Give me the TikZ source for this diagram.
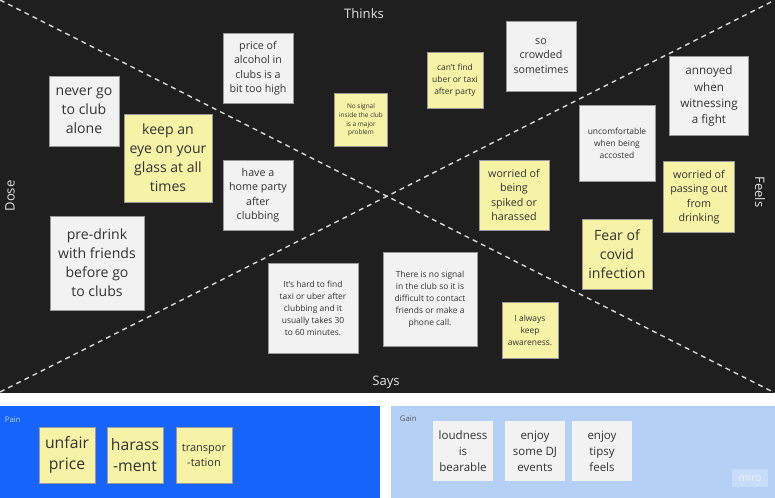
\documentclass[tikz,border=0pt]{standalone}
\usepackage{fontspec}
\setmainfont{Open Sans}
\usepackage{tikz}
\definecolor{board}{HTML}{1F1F1F}
\definecolor{dashgray}{HTML}{D8D8D8}
\definecolor{labelgray}{HTML}{E2E2E2}
\definecolor{notewhite}{HTML}{F2F2F2}
\definecolor{noteyellow}{HTML}{F6F2A6}
\definecolor{noteedge}{HTML}{9A9A9A}
\definecolor{notetext}{HTML}{333333}
\definecolor{painblue}{HTML}{1664FB}
\definecolor{gainblue}{HTML}{B5D0F5}

\begin{document}
\begin{tikzpicture}[x=0.025cm,y=-0.025cm,
  note/.style={draw=noteedge,line width=0.3pt,inner sep=1pt,align=center,text=notetext,minimum width=#1,minimum height=#1},
  whitenote/.style={note=#1,fill=notewhite},
  yellownote/.style={note=#1,fill=noteyellow},
  bigtxt/.style={font=\fontsize{10}{13.5}\selectfont},
  midtxt/.style={font=\fontsize{7.6}{10.3}\selectfont},
  smalltxt/.style={font=\fontsize{6}{8.5}\selectfont},
  tinytxt/.style={font=\fontsize{4.6}{6.2}\selectfont},
  side/.style={text=labelgray,font=\fontsize{9.3}{11}\selectfont},
  divider/.style={draw=dashgray,line width=1pt,dash pattern=on 3.5pt off 3pt}]
\useasboundingbox (0,0) rectangle (775,498);
%board
\fill[white] (0,0) rectangle (775,498);
\fill[board] (0,0) rectangle (775,393);
\coordinate (tl) at (0,0);
\coordinate (br) at (775,393);
\coordinate (bl) at (0,392);
\coordinate (tr) at (775,0);
\draw[divider] (tl)--(br);
\draw[divider] (bl)--(tr);
\node[side] (thinks) at (364,14) {Thinks};
\node[side] (says) at (386,382) {Says};
\node[side,rotate=90] (dose) at (10,196) {Dose};
\node[side,rotate=-90] (feels) at (760,192) {Feels};
%dose
\node[whitenote=1.75cm,bigtxt] (neverclub) at (84,111) {never go\\to club\\alone};
\node[yellownote=2.2cm,bigtxt] (eyeglass) at (168,158) {keep an\\eye on your\\glass at all\\times};
\node[whitenote=2.35cm,bigtxt] (predrink) at (97,263) {pre-drink\\with friends\\before go\\to clubs};
\node[whitenote=1.75cm,midtxt] (homeparty) at (258,195) {have a\\home party\\after\\clubbing};
%thinks
\node[whitenote=1.75cm,midtxt] (alcohol) at (258,68) {price of\\alcohol in\\clubs is a\\bit too high};
\node[yellownote=1.33cm,tinytxt] (nosignal) at (361,120) {No signal\\inside the club\\is a major\\problem};
\node[yellownote=1.4cm,smalltxt] (cantfind) at (455,80) {can't find\\uber or taxi\\after party};
\node[whitenote=1.75cm,midtxt] (crowded) at (541,56) {so\\crowded\\sometimes};
%feels
\node[whitenote=1.98cm,font=\fontsize{8.3}{11.4}\selectfont] (annoyed) at (709,96) {annoyed\\when\\witnessing\\a fight};
\node[whitenote=1.9cm,smalltxt] (accosted) at (617,143) {uncomfortable\\when being\\accosted};
\node[yellownote=1.75cm,midtxt] (spiked) at (514,195) {worried of\\being\\spiked or\\harassed};
\node[yellownote=1.78cm,midtxt] (passout) at (699,197) {worried of\\passing out\\from\\drinking};
\node[yellownote=1.75cm,bigtxt] (covid) at (617,254) {Fear of\\covid\\infection};
%says
\node[whitenote=2.25cm,smalltxt] (hardtaxi) at (313,308) {It's hard to find\\taxi or uber after\\clubbing and it\\usually takes 30\\to 60 minutes.};
\node[whitenote=2.35cm,smalltxt] (nocall) at (430,299) {There is no signal\\in the club so it is\\difficult to contact\\friends or make a\\phone call.};
\node[yellownote=1.4cm,smalltxt] (awareness) at (530,330) {I always\\keep\\awareness.};
%pain
\fill[painblue] (0,406) rectangle (380,498);
\node[text=painblue!30!white,font=\fontsize{5.5}{6.5}\selectfont,anchor=west] (pain) at (0,420) {Pain};
\node[yellownote=1.4cm,font=\fontsize{11.2}{15}\selectfont] (unfair) at (67,455) {unfair\\price};
\node[yellownote=1.4cm,font=\fontsize{11.2}{15}\selectfont] (harass) at (135,455) {harass\\-ment};
\node[yellownote=1.4cm,font=\fontsize{7.8}{10.7}\selectfont] (transport) at (204,455) {transpor\\-tation};
%gain
\fill[gainblue] (391,406) rectangle (775,498);
\node[text=black!65,font=\fontsize{5.5}{6.5}\selectfont,anchor=west] (gain) at (395,419) {Gain};
\node[whitenote=1.5cm,font=\fontsize{8.2}{11.4}\selectfont,draw=none] (loudness) at (463,451) {loudness\\is\\bearable};
\node[whitenote=1.5cm,font=\fontsize{8.2}{11.4}\selectfont,draw=none] (djevents) at (535,451) {enjoy\\some DJ\\events};
\node[whitenote=1.5cm,font=\fontsize{8.2}{11.4}\selectfont,draw=none] (tipsy) at (602,451) {enjoy\\tipsy\\feels};
\node[fill=white!25!gainblue,text=white!75!gainblue,font=\fontsize{7.5}{8}\selectfont,minimum width=0.9cm,minimum height=0.45cm] (miro) at (750,478) {miro};
\end{tikzpicture}
\end{document}
